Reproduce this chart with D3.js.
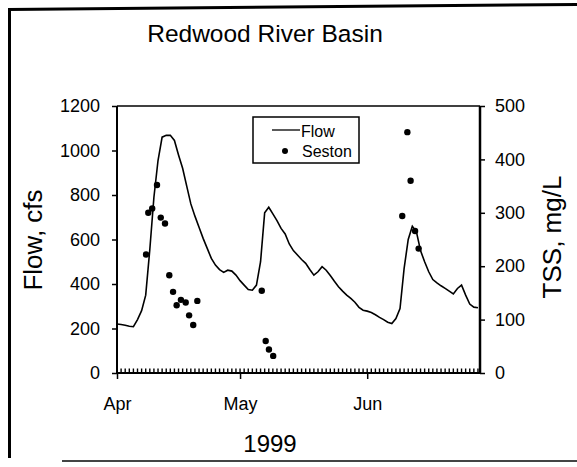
<!DOCTYPE html>
<html>
<head>
<meta charset="utf-8">
<script src="https://cdn.jsdelivr.net/npm/d3@7"></script>
<style>
body { margin: 0; background: #fff; }
svg { display: block; }
text { font-family: "Liberation Sans", Arial, sans-serif; fill: #000; }
</style>
</head>
<body>
<script>
// daily flow (cfs) starting Apr 1 1999
var flowStart = "1999-04-01";
var flowCfs = [
  220, 218, 215, 210, 208, 240, 280, 350, 555, 790,
  955, 1060, 1068, 1068, 1045, 980, 920, 840, 760, 705,
  655, 605, 560, 515, 485, 465, 452, 462, 458, 440,
  415, 395, 375, 372, 395, 500, 720, 745, 715, 685,
  650, 625, 580, 550, 530, 510, 493, 465, 440, 455,
  478, 462, 438, 412, 388, 368, 350, 335, 318, 295,
  282, 278, 272, 262, 250, 240, 228, 222, 245, 290,
  470, 600, 660, 635, 550, 500, 455, 420, 405, 392,
  380, 368, 355, 380, 395, 350, 310, 296, 293
];

// seston samples (TSS mg/L)
var sestonDates = [
  "1999-04-08T02:00", "1999-04-08T15:00", "1999-04-09T14:00", "1999-04-10T18:00",
  "1999-04-11T16:00", "1999-04-12T17:00", "1999-04-13T18:00", "1999-04-14T16:00",
  "1999-04-15T13:00", "1999-04-16T14:00", "1999-04-17T18:00", "1999-04-18T14:00",
  "1999-04-19T14:00", "1999-04-20T14:00",
  "1999-05-06T07:00", "1999-05-07T06:00", "1999-05-08T01:00", "1999-05-09T02:00",
  "1999-06-09T13:00", "1999-06-10T19:00", "1999-06-11T14:00", "1999-06-12T16:00",
  "1999-06-13T13:00"
];
var sestonTss = [
  222, 300, 308, 352, 291, 280, 183, 152, 127, 137, 132, 108, 90, 135,
  154, 60, 44, 32,
  294, 451, 360, 266, 233
];

var flowTicks = [0, 200, 400, 600, 800, 1000, 1200];
var tssTicks = [0, 100, 200, 300, 400, 500];
var monthTicks = ["1999-04-01", "1999-05-01", "1999-06-01"];
var monthLabels = ["Apr", "May", "Jun"];

var width = 577, height = 467;
var plot = { left: 117, right: 480, top: 106, bottom: 373 };

var parseDay = d3.timeParse("%Y-%m-%d");
var parseTime = d3.timeParse("%Y-%m-%dT%H:%M");

var t0 = parseDay(flowStart);
var t1 = new Date(1999, 5, 28, 12);
var flowData = flowCfs.map(function(v, i) {
  return { date: d3.timeDay.offset(t0, i), value: v };
});
var sestonData = sestonTss.map(function(v, i) {
  return { date: parseTime(sestonDates[i]), value: v };
});

var x = d3.scaleTime()
  .domain([t0, t1])
  .range([plot.left, plot.right]);
var yFlow = d3.scaleLinear().domain([0, 1200]).range([plot.bottom, plot.top]);
var yTss = d3.scaleLinear().domain([0, 500]).range([plot.bottom, plot.top]);

var svg = d3.select("body").append("svg")
  .attr("width", width)
  .attr("height", height);

// scanned page frame
svg.append("line").attr("x1", 9.5).attr("y1", 8).attr("x2", 9.5).attr("y2", 458)
  .attr("stroke", "#000").attr("stroke-width", 3);
svg.append("line").attr("x1", 8).attr("y1", 9.5).attr("x2", 577).attr("y2", 4.5)
  .attr("stroke", "#000").attr("stroke-width", 3);
svg.append("line").attr("x1", 62).attr("y1", 461).attr("x2", 577).attr("y2", 461)
  .attr("stroke", "#444").attr("stroke-width", 2);

svg.append("text")
  .attr("x", 265).attr("y", 42)
  .attr("text-anchor", "middle")
  .style("font-size", "24.5px")
  .text("Redwood River Basin");

// plot box
svg.append("line").attr("x1", plot.left).attr("y1", plot.top).attr("x2", plot.right).attr("y2", plot.top)
  .attr("stroke", "#000").attr("stroke-width", 1.5);
svg.append("line").attr("x1", plot.left).attr("y1", plot.top).attr("x2", plot.left).attr("y2", plot.bottom)
  .attr("stroke", "#000").attr("stroke-width", 2);
svg.append("line").attr("x1", plot.right).attr("y1", plot.top).attr("x2", plot.right).attr("y2", plot.bottom)
  .attr("stroke", "#000").attr("stroke-width", 2.5);
svg.append("line").attr("x1", plot.left).attr("y1", plot.bottom).attr("x2", plot.right).attr("y2", plot.bottom)
  .attr("stroke", "#000").attr("stroke-width", 2);

var fmt = d3.format("d");

// left axis
var leftAxis = svg.append("g")
  .attr("transform", "translate(" + plot.left + ",0)")
  .call(d3.axisLeft(yFlow).tickValues(flowTicks).tickFormat(fmt).tickSize(5).tickPadding(12));
leftAxis.select(".domain").remove();
leftAxis.selectAll("line").attr("stroke-width", 1.5);
leftAxis.selectAll("text").style("font-size", "18px").attr("fill", "#000");

// right axis
var rightAxis = svg.append("g")
  .attr("transform", "translate(" + plot.right + ",0)")
  .call(d3.axisRight(yTss).tickValues(tssTicks).tickFormat(fmt).tickSize(5).tickPadding(10));
rightAxis.select(".domain").remove();
rightAxis.selectAll("line").attr("stroke-width", 1.5);
rightAxis.selectAll("text").style("font-size", "18px").attr("fill", "#000");

// daily minor ticks, pointing up into the plot
var days = d3.range(1, 89).map(function(i) { return new Date(1999, 3, 1 + i); });
svg.append("g")
  .attr("class", "minor")
  .selectAll("rect")
  .data(days)
  .enter()
  .append("rect")
  .attr("x", function(d) { return x(d) - 0.7; })
  .attr("y", plot.bottom - 4.5)
  .attr("width", 1.4)
  .attr("height", 4.5)
  .attr("fill", "#000");

// month ticks and labels
var majorAxis = svg.append("g")
  .attr("transform", "translate(0," + plot.bottom + ")")
  .call(d3.axisBottom(x)
    .tickValues(monthTicks.map(parseDay))
    .tickSize(6)
    .tickPadding(18)
    .tickFormat(function(d, i) { return monthLabels[i]; }));
majorAxis.select(".domain").remove();
majorAxis.selectAll("line").attr("stroke-width", 1.5);
majorAxis.selectAll("text").style("font-size", "18px").attr("fill", "#000");

// axis titles
svg.append("text")
  .attr("transform", "translate(42,240) rotate(-90)")
  .attr("text-anchor", "middle")
  .style("font-size", "26px")
  .text("Flow, cfs");
svg.append("text")
  .attr("transform", "translate(561,237) rotate(-90)")
  .attr("text-anchor", "middle")
  .style("font-size", "26px")
  .text("TSS, mg/L");
svg.append("text")
  .attr("x", 270).attr("y", 452)
  .attr("text-anchor", "middle")
  .style("font-size", "24px")
  .text("1999");

// flow line
var flowLine = d3.line()
  .x(function(d) { return x(d.date); })
  .y(function(d) { return yFlow(d.value); });

svg.append("path")
  .attr("d", flowLine(flowData))
  .attr("fill", "none")
  .attr("stroke", "#000")
  .attr("stroke-width", 1.6);

// seston points
svg.selectAll("circle.seston")
  .data(sestonData)
  .enter()
  .append("circle")
  .attr("class", "seston")
  .attr("cx", function(d) { return x(d.date); })
  .attr("cy", function(d) { return yTss(d.value); })
  .attr("r", 3.2)
  .attr("fill", "#000");

// legend
var legend = svg.append("g");
legend.append("rect")
  .attr("x", 253).attr("y", 117).attr("width", 106).attr("height", 46)
  .attr("fill", "#fff").attr("stroke", "#000").attr("stroke-width", 1.5);
legend.append("line")
  .attr("x1", 272).attr("y1", 130).attr("x2", 300).attr("y2", 130)
  .attr("stroke", "#000").attr("stroke-width", 1.3);
legend.append("text")
  .attr("x", 301).attr("y", 136.5)
  .style("font-size", "16px")
  .text("Flow");
legend.append("circle")
  .attr("cx", 285).attr("cy", 151).attr("r", 3)
  .attr("fill", "#000");
legend.append("text")
  .attr("x", 302).attr("y", 157)
  .style("font-size", "16px")
  .text("Seston");
</script>
</body>
</html>
